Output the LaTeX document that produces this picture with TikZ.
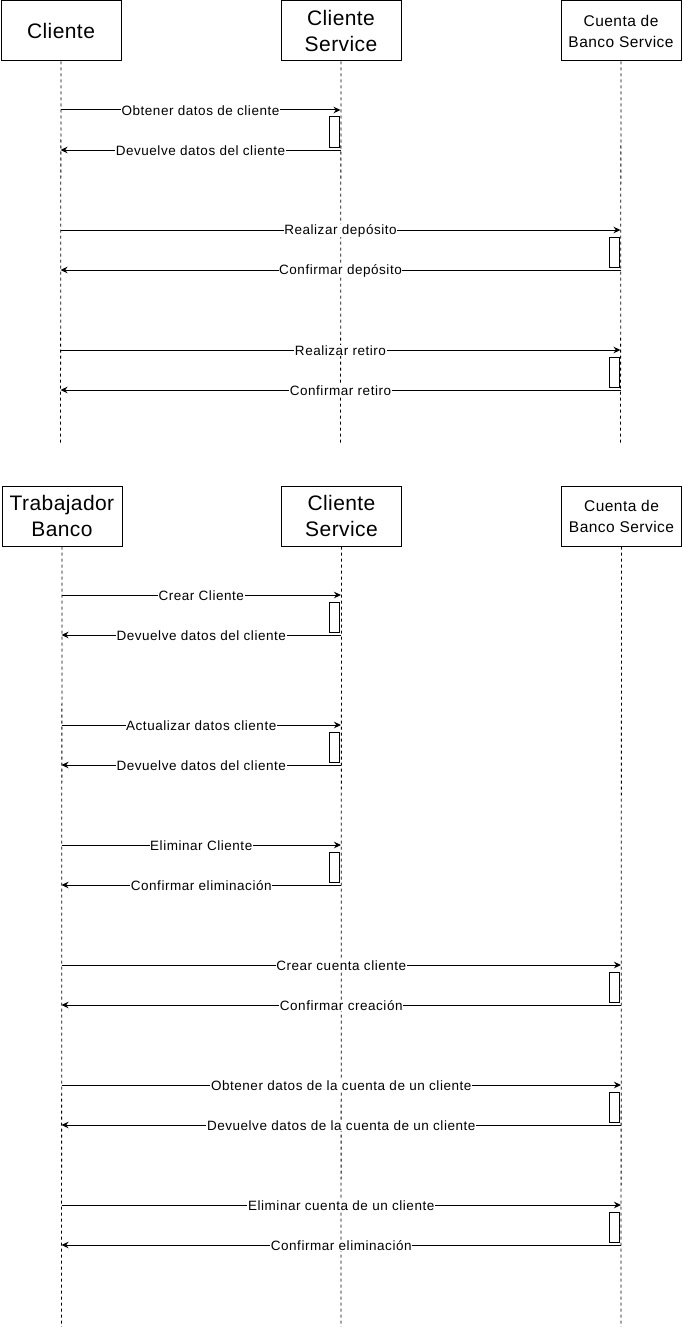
\documentclass[tikz,border=0pt]{standalone}
\usepackage{fontspec}
\usetikzlibrary{arrows.meta}
\newfontfamily\msgfamily[LetterSpace=4]{Liberation Sans}
\newfontfamily\boxfamily[LetterSpace=2]{Liberation Sans}
\newfontfamily\sboxfamily[LetterSpace=3]{Liberation Sans}
\newcommand\msgfont{\msgfamily\fontsize{13.5}{16}\selectfont}
\newcommand\bigboxfont{\boxfamily\fontsize{21}{26}\selectfont}
\newcommand\smallboxfont{\sboxfamily\fontsize{15.5}{21}\selectfont}
\newcommand\sendmsg[5]{%
  \coordinate (#1s) at (#3,#2);
  \coordinate (#1e) at (#4,#2);
  \draw[msg] (#1s) -- node[lbl]{#5} (#1e);}
\begin{document}
\begin{tikzpicture}[x=1pt,y=-1pt,
  obj/.style={draw, line width=1pt, minimum width=120pt, minimum height=60pt, inner sep=0pt, align=center, anchor=north west},
  life/.style={line width=0.8pt, dash pattern=on 3pt off 3pt},
  msg/.style={-{Stealth[length=7pt,width=6.5pt]}, line width=1pt},
  lbl/.style={fill=white, inner sep=0.6pt, font=\msgfont, yshift=-0.5pt},
  act/.style={draw, line width=1pt, fill=white, minimum width=10pt, minimum height=30pt, inner sep=0pt, anchor=north east}]
\useasboundingbox (0,0) rectangle (683,1327);
% ---------- top diagram ----------
\node[obj, font=\bigboxfont] (cl) at (0.5,0.5) {Cliente};
\node[obj, font=\bigboxfont] (cs1) at (280.5,0.5) {Cliente\\Service};
\node[obj, font=\smallboxfont] (cb1) at (560.5,0.5) {Cuenta de\\Banco Service};
\coordinate (clend) at (60.5,445);
\coordinate (cs1end) at (340.5,445);
\coordinate (cb1end) at (620.5,445);
\draw[life] (cl.south) -- (clend);
\draw[life] (cs1.south) -- (cs1end);
\draw[life] (cb1.south) -- (cb1end);
\node[act] (t1) at (339.5,116.5) {};
\node[act] (t2) at (619.5,236.5) {};
\node[act] (t3) at (619.5,356.5) {};
\sendmsg{a1}{110}{60.5}{340.5}{Obtener datos de cliente}
\sendmsg{a2}{150}{340.5}{60.5}{Devuelve datos del cliente}
\sendmsg{a3}{230}{60.5}{620.5}{Realizar depósito}
\sendmsg{a4}{270}{620.5}{60.5}{Confirmar depósito}
\sendmsg{a5}{350}{60.5}{620.5}{Realizar retiro}
\sendmsg{a6}{390}{620.5}{60.5}{Confirmar retiro}
% ---------- bottom diagram ----------
\node[obj, font=\bigboxfont] (tb) at (1.5,485.5) {Trabajador\\Banco};
\node[obj, font=\bigboxfont] (cs2) at (281,485.5) {Cliente\\Service};
\node[obj, font=\smallboxfont] (cb2) at (561,485.5) {Cuenta de\\Banco Service};
\coordinate (tbend) at (61.5,1327);
\coordinate (cs2end) at (341,1327);
\coordinate (cb2end) at (621,1327);
\draw[life] (tb.south) -- (tbend);
\draw[life] (cs2.south) -- (cs2end);
\draw[life] (cb2.south) -- (cb2end);
\node[act] (u1) at (340,601.5) {};
\node[act] (u2) at (340,731.5) {};
\node[act] (u3) at (340,851.5) {};
\node[act] (u4) at (620,971.5) {};
\node[act] (u5) at (620,1091.5) {};
\node[act] (u6) at (620,1211.5) {};
\sendmsg{b1}{595}{61.5}{341}{Crear Cliente}
\sendmsg{b2}{635}{341}{61.5}{Devuelve datos del cliente}
\sendmsg{b3}{725}{61.5}{341}{Actualizar datos cliente}
\sendmsg{b4}{765}{341}{61.5}{Devuelve datos del cliente}
\sendmsg{b5}{845}{61.5}{341}{Eliminar Cliente}
\sendmsg{b6}{885}{341}{61.5}{Confirmar eliminación}
\sendmsg{b7}{965}{61.5}{621}{Crear cuenta cliente}
\sendmsg{b8}{1005}{621}{61.5}{Confirmar creación}
\sendmsg{b9}{1085}{61.5}{621}{Obtener datos de la cuenta de un cliente}
\sendmsg{b10}{1125}{621}{61.5}{Devuelve datos de la cuenta de un cliente}
\sendmsg{b11}{1205}{61.5}{621}{Eliminar cuenta de un cliente}
\sendmsg{b12}{1245}{621}{61.5}{Confirmar eliminación}
\end{tikzpicture}
\end{document}
